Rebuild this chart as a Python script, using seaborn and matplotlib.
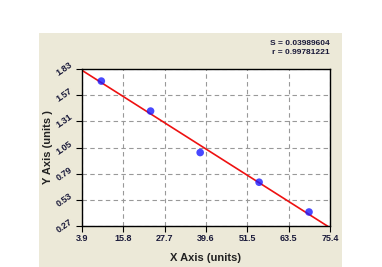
import numpy as np
import pandas as pd
import seaborn as sns
import matplotlib
matplotlib.use("Agg")
import matplotlib.pyplot as plt
from matplotlib.patches import Rectangle
from matplotlib.ticker import AutoMinorLocator

x_vals = [9.47, 23.67, 37.97, 54.96, 69.35]
y_vals = [1.71, 1.412, 1.00, 0.705, 0.409]
x_ticks = [3.9, 15.8, 27.7, 39.6, 51.5, 63.45, 75.4]
x_tick_labels = ["3.9", "15.8", "27.7", "39.6", "51.5", "63.5", "75.4"]
y_ticks = [0.27, 0.53, 0.79, 1.05, 1.31, 1.57, 1.83]
y_tick_labels = ["0.27", "0.53", "0.79", "1.05", "1.31", "1.57", "1.83"]
stats_text = "S = 0.03989604\nr = 0.99781221"

df = pd.DataFrame({"x": x_vals, "y": y_vals})

sns.set_style("white")
plt.rcParams['font.family'] = ['Liberation Sans', 'DejaVu Sans']

fig = plt.figure(figsize=(3.82, 2.67), dpi=100)
fig.patch.set_facecolor("white")
fig.patches.append(Rectangle((39/382, 0), (342-39)/382, (267-33)/267,
                             transform=fig.transFigure, facecolor="#ECE9D8",
                             edgecolor="none", zorder=-10))

ax = fig.add_axes([82/382, 41/267, 248/382, 157/267])
ax.set_facecolor("white")
ax.set_xlim(3.9, 75.4)
ax.set_ylim(0.27, 1.83)

sns.regplot(data=df, x="x", y="y", ax=ax, ci=None, truncate=False,
            scatter_kws=dict(color="#1a1aff", s=30, zorder=3, edgecolor="none"),
            line_kws=dict(color="#ee1111", lw=1.2, zorder=2))

ax.set_xlim(3.9, 75.4)
ax.set_ylim(0.27, 1.83)
ax.set_xticks(x_ticks)
ax.set_xticklabels(x_tick_labels)
ax.set_yticks(y_ticks)
ax.set_yticklabels(y_tick_labels, rotation=35, va="center")
ax.xaxis.set_minor_locator(AutoMinorLocator(8))
ax.yaxis.set_minor_locator(AutoMinorLocator(5))
ax.tick_params(axis="both", which="major", direction="out", length=4, width=0.8,
               labelsize=6.5, colors="black", labelcolor="#1a1a3a", pad=2)
ax.tick_params(axis="both", which="minor", direction="out", length=2, width=0.6, colors="black")
ax.tick_params(axis="both", bottom=True, left=True)
for lab in ax.get_xticklabels() + ax.get_yticklabels():
    lab.set_fontweight("bold")

ax.grid(True, which="major", linestyle=(0, (4, 3)), color="#999999", lw=0.8)
for s in ax.spines.values():
    s.set_color("black")
    s.set_linewidth(1.0)

ax.set_xlabel("X Axis (units)", fontsize=8, fontweight="bold", color="#222222", labelpad=7)
ax.set_ylabel("Y Axis (units )", fontsize=8, fontweight="bold", color="#222222", labelpad=1)

fig.text(330/382, 1 - 40/267, stats_text, ha="right", va="top", fontsize=6,
         fontweight="bold", color="#1a1a3a", linespacing=1.3)

fig.savefig("out.png", dpi=100)
